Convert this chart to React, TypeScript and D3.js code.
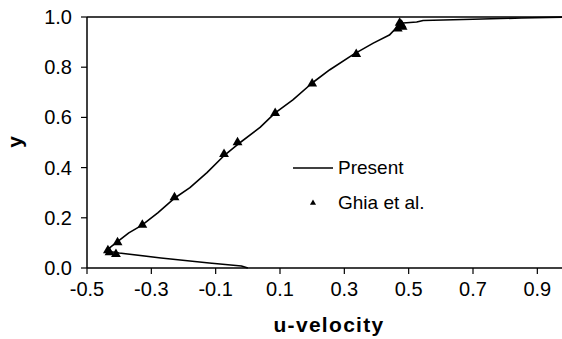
import React, { useEffect, useRef } from "react";
import * as d3 from "d3";

const xTicks = [-0.5, -0.3, -0.1, 0.1, 0.3, 0.5, 0.7, 0.9];
const yTicks = [0.0, 0.2, 0.4, 0.6, 0.8, 1.0];

// Present (numerical) profile: u, y
const presentU = [0.0, -0.02, -0.12, -0.27, -0.4, -0.43, -0.435, -0.425, -0.405, -0.37, -0.33, -0.28, -0.226, -0.18, -0.127, -0.072, -0.034, 0.038, 0.084, 0.14, 0.2, 0.255, 0.327, 0.39, 0.44, 0.464, 0.483, 0.525, 0.545, 0.7, 0.85, 0.99, 1.0];
const presentY = [0.0, 0.008, 0.02, 0.04, 0.06, 0.066, 0.074, 0.085, 0.105, 0.14, 0.17, 0.22, 0.28, 0.32, 0.38, 0.45, 0.49, 0.56, 0.617, 0.67, 0.737, 0.79, 0.85, 0.896, 0.928, 0.96, 0.976, 0.98, 0.986, 0.991, 0.996, 1.0, 1.0];

// Ghia et al. reference points
const ghiaY = [0.9766, 0.9688, 0.9609, 0.9531, 0.8516, 0.7344, 0.6172, 0.5, 0.4531, 0.2813, 0.1719, 0.1016, 0.0703, 0.0625, 0.0547];
const ghiaU = [0.472, 0.478, 0.481, 0.466, 0.337, 0.2, 0.085, -0.032, -0.074, -0.228, -0.328, -0.405, -0.435, -0.43, -0.41];

const W = 562;
const H = 339;

export default function App() {
  const ref = useRef<SVGSVGElement>(null);

  useEffect(() => {
    const svg = d3.select(ref.current);
    svg.selectAll("*").remove();

    const x = d3.scaleLinear().domain([-0.5, 1.0]).range([87, 569.5]);
    const y = d3.scaleLinear().domain([0, 1]).range([268, 17]);
    const font = "Liberation Sans, Arial, Helvetica, sans-serif";

    // axes lines
    svg.append("line").attr("x1", 87).attr("x2", W).attr("y1", y(0)).attr("y2", y(0))
      .attr("stroke", "#000").attr("stroke-width", 1.5);
    svg.append("line").attr("x1", 87).attr("x2", 87).attr("y1", y(1)).attr("y2", y(0))
      .attr("stroke", "#000").attr("stroke-width", 1.5);
    svg.append("line").attr("x1", 87).attr("x2", W).attr("y1", y(1)).attr("y2", y(1))
      .attr("stroke", "#000").attr("stroke-width", 1.5);

    // x ticks
    const xt = svg.append("g");
    xTicks.forEach((t) => {
      xt.append("line").attr("x1", x(t)).attr("x2", x(t)).attr("y1", y(0)).attr("y2", y(0) + 6)
        .attr("stroke", "#000").attr("stroke-width", 1.2);
      xt.append("text").attr("x", x(t)).attr("y", 296).attr("text-anchor", "middle")
        .attr("font-family", font).attr("font-size", 20).attr("fill", "#000").text(t.toFixed(1));
    });

    // y ticks
    const yt = svg.append("g");
    yTicks.forEach((t) => {
      yt.append("line").attr("x1", 81).attr("x2", 87).attr("y1", y(t)).attr("y2", y(t))
        .attr("stroke", "#000").attr("stroke-width", 1.2);
      yt.append("text").attr("x", 72).attr("y", y(t) + 7).attr("text-anchor", "end")
        .attr("font-family", font).attr("font-size", 20).attr("fill", "#000").text(t.toFixed(1));
    });

    // axis titles
    svg.append("text").attr("x", 329).attr("y", 332).attr("text-anchor", "middle")
      .attr("font-family", font).attr("font-size", 21).attr("font-weight", "bold")
      .attr("letter-spacing", 1.3).attr("fill", "#000").text("u-velocity");
    svg.append("text").attr("transform", "translate(22,142) rotate(-90)").attr("text-anchor", "middle")
      .attr("font-family", font).attr("font-size", 21).attr("font-weight", "bold")
      .attr("fill", "#000").text("y");

    // present line
    const pts: [number, number][] = presentU.map((u, i) => [u, presentY[i]]);
    const line = d3.line<[number, number]>().x((d) => x(d[0])).y((d) => y(d[1]));
    svg.append("path").attr("d", line(pts) as string).attr("fill", "none")
      .attr("stroke", "#000").attr("stroke-width", 1.6).attr("stroke-linejoin", "round");

    // Ghia markers
    const tri = d3.symbol().type(d3.symbolTriangle).size(42);
    ghiaU.forEach((u, i) => {
      svg.append("path").attr("d", tri() as string)
        .attr("transform", `translate(${x(u)},${y(ghiaY[i])})`).attr("fill", "#000");
    });

    // legend
    svg.append("line").attr("x1", 293).attr("x2", 333).attr("y1", 168).attr("y2", 168)
      .attr("stroke", "#000").attr("stroke-width", 1.5);
    svg.append("text").attr("x", 338).attr("y", 174).attr("font-family", font)
      .attr("font-size", 19).attr("fill", "#000").text("Present");
    svg.append("path").attr("d", d3.symbol().type(d3.symbolTriangle).size(16)() as string)
      .attr("transform", "translate(313,203)").attr("fill", "#000");
    svg.append("text").attr("x", 338).attr("y", 209).attr("font-family", font)
      .attr("font-size", 19).attr("fill", "#000").text("Ghia et al.");
  }, []);

  return (
    <svg ref={ref} width={W} height={H}
      style={{ position: "absolute", left: 0, top: 0, background: "#fff", display: "block" }} />
  );
}
